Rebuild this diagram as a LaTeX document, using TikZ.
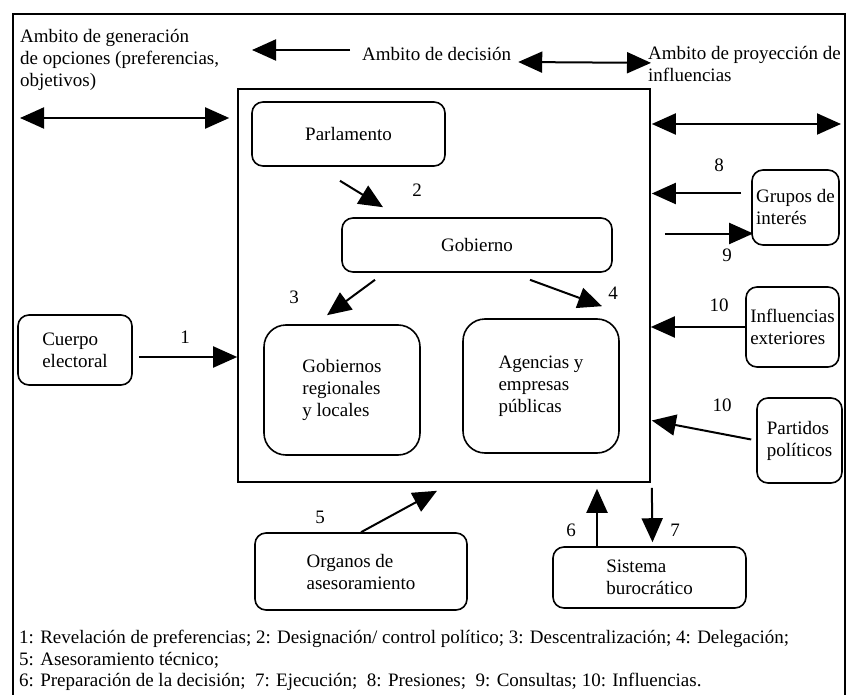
\documentclass[tikz,border=0pt]{standalone}
\usepackage{fontspec}
\setmainfont{Liberation Serif}
\usetikzlibrary{calc,arrows.meta}

\tikzset{
  caja/.style={draw, line width=1.6pt, rounded corners=11pt, align=left, inner sep=0pt},
  cajagrande/.style={caja, rounded corners=22pt},
  flecha/.style={line width=2pt, ->},
  doble/.style={line width=2pt, <->},
  num/.style={inner sep=0pt},
  rotulo/.style={inner sep=0pt, align=left},
}

\begin{document}
\begin{tikzpicture}[x=1pt, y=-1pt, >={Triangle[length=24pt,width=21pt]},
  font=\fontsize{19}{22}\selectfont]
  \useasboundingbox (0,0) rectangle (848,695);
  \draw[line width=2.6pt] (13,705) -- (13,14) -- (845,14) -- (845,705);

  \node[rotulo, anchor=north west] (gen) at (20,29) {Ambito de generación\\de opciones (preferencias,\\objetivos)};
  \node[rotulo, anchor=west] (dec) at (362,54) {Ambito de decisión};
  \node[rotulo, anchor=north west] (proy) at (648,46) {Ambito de proyección de\\influencias};
  \coordinate (decL) at (252,50);
  \coordinate (genL) at (20,118);
  \coordinate (proyR) at (841,124);

  \node[draw, line width=1.6pt, minimum width=412pt, minimum height=393pt] (decision) at (444,285.5) {};

  \node[caja, minimum width=193pt, minimum height=64pt] (parl) at (348.5,134) {Parlamento};
  \node[caja, minimum width=270pt, minimum height=54pt] (gob) at (477,245) {Gobierno};
  \node[cajagrande, minimum width=156pt, minimum height=130pt] (greg) at (342,390) {Gobiernos\\regionales\\y locales};
  \node[cajagrande, minimum width=156pt, minimum height=134pt] (agen) at (541,386) {Agencias y\\empresas\\públicas};
  \node[caja, minimum width=114pt, minimum height=70pt] (cuerpo) at (75,350) {Cuerpo\\electoral};
  \node[caja, minimum width=87pt, minimum height=75pt] (grupos) at (795.5,207.5) {Grupos de\\interés};
  \node[caja, minimum width=93pt, minimum height=80pt] (infl) at (792.5,327) {Influencias\\exteriores};
  \node[caja, minimum width=85pt, minimum height=85pt] (part) at (799.5,440.5) {Partidos\\políticos};
  \node[caja, minimum width=212pt, minimum height=77pt] (org) at (361,571.5) {Organos de\\asesoramiento};
  \node[caja, minimum width=193pt, minimum height=61pt] (sist) at (649.5,577.5) {Sistema\\burocrático};

  \node[num] (n1) at (185,337) {1};
  \node[num] (n2) at (417,190) {2};
  \node[num] (n3) at (294,297) {3};
  \node[num] (n4) at (613,293) {4};
  \node[num] (n5) at (320,517) {5};
  \node[num] (n6) at (571,530) {6};
  \node[num] (n7) at (675,530) {7};
  \node[num] (n8) at (719,165) {8};
  \node[num] (n9) at (727,255) {9};
  \node[num] (n10a) at (719,305) {10};
  \node[num] (n10b) at (722,405) {10};

  \draw[flecha] ($(dec.west)+(-12,-4)$) -- (decL);
  \draw[doble] ($(dec.east)+(7,8)$) -- ($(proy.west)+(3,-1)$);
  \draw[doble] (genL) -- ($(genL -| decision.west)+(-8,0)$);
  \draw[doble] ($(proyR -| decision.east)+(1,0)$) -- (proyR);
  \draw[flecha] ($(parl.south)+(-8.5,14)$) -- ($(gob.north)+(-94,-10)$);
  \draw[flecha] ($(gob.south)+(-102,7)$) -- ($(greg.north)+(-15,-9)$);
  \draw[flecha] ($(gob.south)+(53,7)$) -- ($(agen.north)+(61,-12)$);
  \draw[flecha] ($(cuerpo.east)+(6,7)$) -- ($(cuerpo.east -| decision.west)+(0,7)$);
  \draw[flecha] (org.north) -- ($(decision.south)+(-7,8)$);
  \draw[flecha] ($(sist.north)+(-52.5,0)$) -- ($(sist.north |- decision.south)+(-52.5,6)$);
  \draw[flecha] ($(decision.south east)+(1,5)$) -- ($(sist.north)+(3,-4)$);
  \draw[flecha] ($(grupos.west)+(-10,-14)$) -- ($(grupos.west -| decision.east)+(1,-14)$);
  \draw[flecha] ($(grupos.west -| decision.east)+(14,26)$) -- ($(grupos.west)+(2,26)$);
  \draw[flecha] (infl.west) -- (infl.west -| decision.east);
  \draw[flecha] ($(part.west)+(-5,-1)$) -- ($(part.west -| decision.east)+(1,-20)$);

  \node[rotulo, anchor=north west, font=\fontsize{19}{21.5}\selectfont] (leyenda) at (19,630)
    {1: Revelación de preferencias; 2: Designación/ control político; 3: Descentralización; 4: Delegación;\\
     5: Asesoramiento técnico;\\
     6: Preparación de la decisión;\ \ 7: Ejecución;\ \ 8: Presiones;\ \ 9: Consultas; 10: Influencias.};
\end{tikzpicture}
\end{document}
